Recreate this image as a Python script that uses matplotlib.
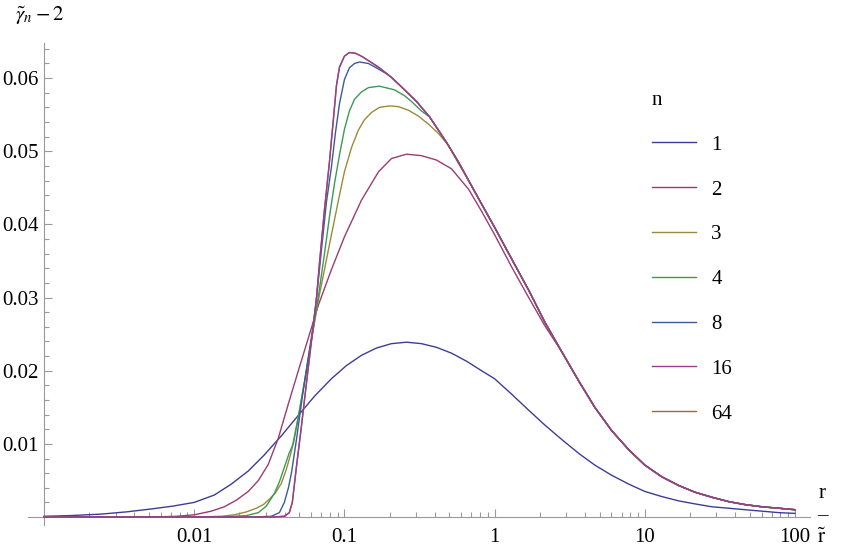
import numpy as np
import matplotlib
matplotlib.use("Agg")
from matplotlib import pyplot as plt

plt.rcParams['font.family'] = ['Liberation Serif', 'DejaVu Serif']
plt.rcParams['mathtext.fontset'] = 'stix'

# readings are stored as (log10 r, gamma_n - 2)
# shared right-hand tail (all n >= 2 follow it once merged)
tail_lg = [-0.773, -0.687, -0.62, -0.52, -0.433, -0.32, -0.24, -0.173, -0.087, 0.0, 0.113,
           0.227, 0.333, 0.447, 0.56, 0.667, 0.78, 0.893, 1.0, 1.113, 1.227, 1.333, 1.447,
           1.56, 1.667, 1.78, 1.893, 2.0]
tail_y = [0.0615, 0.0601, 0.0588, 0.0568, 0.0547, 0.0512, 0.0485, 0.0460, 0.0428, 0.0396, 0.0353,
          0.0310, 0.0267, 0.0226, 0.0186, 0.0150, 0.0118, 0.0092, 0.0071, 0.0055, 0.0043, 0.0034,
          0.0027, 0.0021, 0.0017, 0.0014, 0.0012, 0.0010]

lg1 = [-3.0, -2.82, -2.62, -2.453, -2.287, -2.14, -2.0, -1.867, -1.753, -1.64, -1.533, -1.42,
       -1.307, -1.2, -1.087, -0.987, -0.887, -0.787, -0.687, -0.587, -0.487, -0.387, -0.287,
       -0.187, -0.087, 0.0, 0.113, 0.227, 0.333, 0.447, 0.56, 0.667, 0.78, 0.893, 1.0, 1.113,
       1.227, 1.333, 1.447, 1.56, 1.667, 1.78, 1.893, 2.0]
y1 = [0.0001, 0.0002, 0.0004, 0.0007, 0.0011, 0.0015, 0.0020, 0.0030, 0.0045, 0.0063, 0.0085, 0.0111,
      0.0139, 0.0165, 0.0189, 0.0207, 0.0221, 0.0231, 0.0237, 0.0239, 0.0237, 0.0232, 0.0224,
      0.0213, 0.0200, 0.0189, 0.0168, 0.0146, 0.0126, 0.0106, 0.0087, 0.0071, 0.0057, 0.0045,
      0.0035, 0.0028, 0.0022, 0.0018, 0.0014, 0.0012, 0.0010, 0.0008, 0.0006, 0.0005]

lg2 = [-3.0, -2.287, -2.12, -2.0, -1.887, -1.8, -1.72, -1.64, -1.573, -1.507, -1.44, -1.373,
       -1.307, -1.24, -1.173, -1.087, -1.0, -0.887, -0.773, -0.687, -0.587, -0.487, -0.387,
       -0.287, -0.173, -0.087, 0.0, 0.113, 0.227, 0.333]
y2 = [0.0, 0.0, 0.0001, 0.0003, 0.0008, 0.0014, 0.0023, 0.0035, 0.0050, 0.0072, 0.0108, 0.0155,
      0.0200, 0.0245, 0.0290, 0.0338, 0.0383, 0.0433, 0.0472, 0.0490, 0.0496, 0.0494, 0.0488,
      0.0476, 0.0448, 0.0418, 0.0386, 0.0342, 0.0300, 0.0262]

lg3 = [-3.0, -2.0, -1.82, -1.733, -1.653, -1.587, -1.54, -1.507, -1.46, -1.42, -1.387, -1.353,
       -1.307, -1.267, -1.22, -1.173, -1.107, -1.04, -1.0, -0.953, -0.907, -0.867, -0.82, -0.767,
       -0.7, -0.64, -0.573, -0.507, -0.44, -0.373, -0.307, -0.24]
y3 = [0.0, 0.0, 0.0001, 0.0003, 0.0007, 0.0012, 0.0017, 0.0023, 0.0033, 0.0046, 0.0065, 0.0090,
      0.0137, 0.0183, 0.0242, 0.0297, 0.0365, 0.0433, 0.0472, 0.0505, 0.0529, 0.0543, 0.0553, 0.0560,
      0.0562, 0.0561, 0.0556, 0.0548, 0.0537, 0.0524, 0.0508, 0.0483]

lg4 = [-3.0, -1.82, -1.653, -1.573, -1.52, -1.467, -1.433, -1.4, -1.367, -1.34, -1.3, -1.253,
       -1.213, -1.173, -1.133, -1.1, -1.067, -1.033, -1.0, -0.967, -0.933, -0.887, -0.84, -0.767,
       -0.667, -0.6, -0.553, -0.487]
y4 = [0.0, 0.0, 0.0002, 0.0006, 0.0015, 0.0032, 0.0048, 0.0068, 0.0088, 0.0100, 0.0145, 0.0200,
      0.0250, 0.0302, 0.0360, 0.0410, 0.0455, 0.0495, 0.0530, 0.0555, 0.0571, 0.0581, 0.0587, 0.0589,
      0.0584, 0.0576, 0.0568, 0.0555]

lg8 = [-3.0, -1.62, -1.487, -1.433, -1.4, -1.373, -1.353, -1.32, -1.28, -1.247, -1.213, -1.187,
       -1.153, -1.12, -1.087, -1.06, -1.033, -1.0, -0.967, -0.933, -0.9, -0.84, -0.787, -0.72]
y8 = [0.0, 0.0, 0.0001, 0.0006, 0.0020, 0.0040, 0.0060, 0.0105, 0.0165, 0.0210, 0.0255, 0.0297,
      0.0365, 0.0430, 0.0478, 0.0525, 0.0565, 0.0598, 0.0614, 0.0620, 0.0622, 0.0620, 0.0614, 0.0606]

lg16 = [-3.0, -1.487, -1.4, -1.367, -1.347, -1.32, -1.287, -1.253, -1.22, -1.187, -1.167, -1.133,
        -1.1, -1.073, -1.053, -1.033, -1.0, -0.967, -0.927, -0.887, -0.833]
y16 = [0.0, 0.0, 0.0001, 0.0006, 0.0020, 0.0068, 0.0123, 0.0183, 0.0240, 0.0297, 0.0345, 0.0420,
       0.0485, 0.0545, 0.0590, 0.0615, 0.0630, 0.0635, 0.0634, 0.0630, 0.0623]

# n = 64 sits underneath n = 16 in the picture
lg64 = lg16
y64 = y16

ns = ['1', '2', '3', '4', '8', '16', '64']
colors = [(0.24, 0.24, 0.6), (0.6, 0.24, 0.4428), (0.6, 0.547, 0.24), (0.24, 0.6, 0.3369),
          (0.24, 0.3511, 0.6), (0.6, 0.24, 0.5647), (0.6, 0.4158, 0.24)]

# index into the tail where each curve joins it
curves = [
    (lg1, y1, None),
    (lg2, y2, 13),
    (lg3, y3, 7),
    (lg4, y4, 4),
    (lg8, y8, 1),
    (lg16, y16, 0),
    (lg64, y64, 0),
]
zorders = [3, 4, 5, 6, 7, 9, 8]

W, H = 843, 549
fig = plt.figure(figsize=(W / 100, H / 100), dpi=100)
ax = fig.add_axes([28 / W, 1 - 525 / H, (810 - 28) / W, (525 - 43) / H])

for (lg, yy, start), c, lab, z in zip(curves, colors, ns, zorders):
    xs = list(lg)
    ys = list(yy)
    if start is not None:
        xs += tail_lg[start:]
        ys += tail_y[start:]
    ax.plot(10 ** np.array(xs), ys, color=c, lw=1.0, label=lab, zorder=z)

ax.set_xscale('log')
ax.set_xlim(10 ** -3.107, 10 ** 2.1)
ax.set_ylim(-0.00109, 0.0648)

axis_col = '#999999'
for s in ['top', 'right']:
    ax.spines[s].set_visible(False)
ax.spines['left'].set_position(('data', 0.001))
ax.spines['bottom'].set_position(('data', 0.0))
ax.spines['left'].set_color(axis_col)
ax.spines['bottom'].set_color(axis_col)

ax.set_xticks([0.01, 0.1, 1, 10, 100])
ax.set_xticklabels(['0.01', '0.1', '1', '10', '100'])
minor_x = [m * 10.0 ** e for e in range(-3, 2) for m in range(2, 10)]
ax.set_xticks(minor_x, minor=True)
ax.set_yticks([0.01, 0.02, 0.03, 0.04, 0.05, 0.06])
ax.set_yticklabels(['0.01', '0.02', '0.03', '0.04', '0.05', '0.06'])
ax.set_yticks([v / 1000 for v in range(2, 66, 2) if v % 10 != 0], minor=True)

ax.tick_params(which='both', direction='in', color=axis_col, labelsize=15, labelcolor='black')
ax.tick_params(axis='x', which='major', length=6, width=0.8, pad=8)
ax.tick_params(axis='x', which='minor', length=3.5, width=0.8)
ax.tick_params(axis='y', which='major', length=6, width=0.8, pad=4)
ax.tick_params(axis='y', which='minor', length=3.5, width=0.8)

leg = ax.legend(title='n', loc='upper left', bbox_to_anchor=(652 / W, 1 - 91 / H),
                bbox_transform=fig.transFigure, frameon=False, fontsize=15, title_fontsize=15,
                borderpad=0, borderaxespad=0, handlelength=2.1, handletextpad=0.75,
                labelspacing=1.21, alignment='left')

fig.text(15 / W, 1 - 16 / H, r'$\tilde{\gamma}_n - 2$', fontsize=15, ha='left', va='center')
fig.text(822 / W, 1 - 494 / H, 'r', fontsize=15, ha='center', va='center')
fig.text(822 / W, 1 - 516 / H, '\u2013', fontsize=15, ha='center', va='center')
fig.text(822 / W, 1 - 538 / H, r'$\tilde{\mathrm{r}}$', fontsize=15, ha='center', va='center')

fig.savefig('out.png', dpi=100)
